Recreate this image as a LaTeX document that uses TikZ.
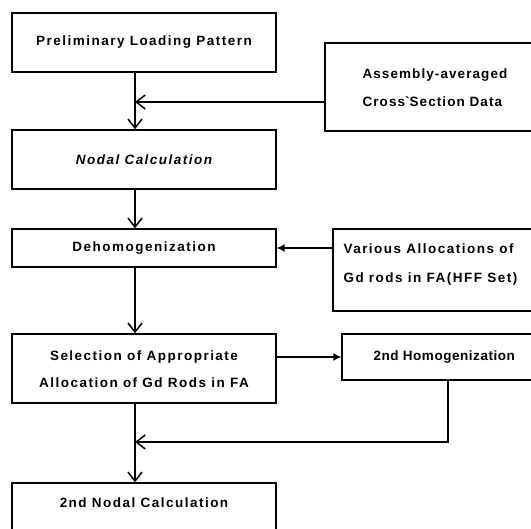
\documentclass[tikz,border=0pt]{standalone}
\usepackage{fontspec}
\setmainfont{Liberation Sans}[LetterSpace=11]
\usetikzlibrary{arrows.meta}
\begin{document}
\begin{tikzpicture}[x=1pt,y=-1pt,
  box/.style={draw,line width=1.4pt,inner sep=0pt},
  lbl/.style={font=\bfseries\fontsize{13.5}{15}\selectfont},
  arr/.style={line width=1.4pt,-{Straight Barb[length=9pt,width=14pt,line width=1.5pt]}},
  sarr/.style={line width=1.4pt,-{Latex[length=8pt,width=8pt]}}]
\useasboundingbox (0,0) rectangle (531,529);
\clip (0,0) rectangle (531,529);
% left column boxes
\node[box,minimum width=264pt,minimum height=59pt] (b1) at (144,42.5) {};
\node[lbl] (t1) at (b1.center) {Preliminary Loading Pattern};
\node[box,minimum width=264pt,minimum height=59pt] (b2) at (144,159.5) {};
\node[lbl,font=\bfseries\itshape\fontsize{13.5}{15}\selectfont] (t2) at (b2.center) {Nodal Calculation};
\node[box,minimum width=264pt,minimum height=38pt] (b3) at (144,248) {};
\node[lbl] (t3) at (b3.center) {Dehomogenization};
\node[box,minimum width=264pt,minimum height=69pt] (b4) at (144,368.5) {};
\node[lbl] (t4a) at (144,357) {Selection of Appropriate};
\node[lbl] (t4b) at (144,383) {Allocation of Gd Rods in FA};
\node[box,minimum width=264pt,minimum height=70pt] (b5) at (144,518) {};
\node[lbl] (t5) at (144,503) {2nd Nodal Calculation};
% right column boxes (cut at the right edge)
\node[box,minimum width=220pt,minimum height=88pt] (as) at (435,87) {};
\node[lbl,anchor=west] (ta1) at (359,75) {\addfontfeatures{LetterSpace=8}Assembly-averaged};
\node[lbl,anchor=west] (ta2) at (359,102) {\addfontfeatures{LetterSpace=8}Cross\textasciigrave Section Data};
\node[box,minimum width=212pt,minimum height=82pt] (va) at (439,270) {};
\node[lbl,anchor=west] (tv1) at (340,249) {Various Allocations of};
\node[lbl,anchor=west] (tv2) at (340,279) {Gd rods in FA(HFF Set)};
\node[box,minimum width=204pt,minimum height=46pt] (hm) at (444,357) {};
\node[lbl,anchor=west] (th) at (370,357) {\addfontfeatures{LetterSpace=4}2nd Homogenization};
% connectors
\coordinate (axis) at (135,0);
\coordinate (m1) at (135,102);
\coordinate (m2) at (135,442);
\coordinate (dn) at (448,442);
\draw[arr] (axis |- b1.south) -- (axis |- b2.north);
\draw[arr] (as.west |- m1) -- (m1);
\draw[arr] (axis |- b2.south) -- (axis |- b3.north);
\draw[arr] (axis |- b3.south) -- (axis |- b4.north);
\draw[sarr] (va.west |- b3.east) -- (b3.east);
\draw[sarr] (b4.east |- hm.west) -- (hm.west);
\draw[arr] (dn |- hm.south) -- (dn) -- (m2);
\draw[arr] (axis |- b4.south) -- (axis |- b5.north);
\end{tikzpicture}
\end{document}
